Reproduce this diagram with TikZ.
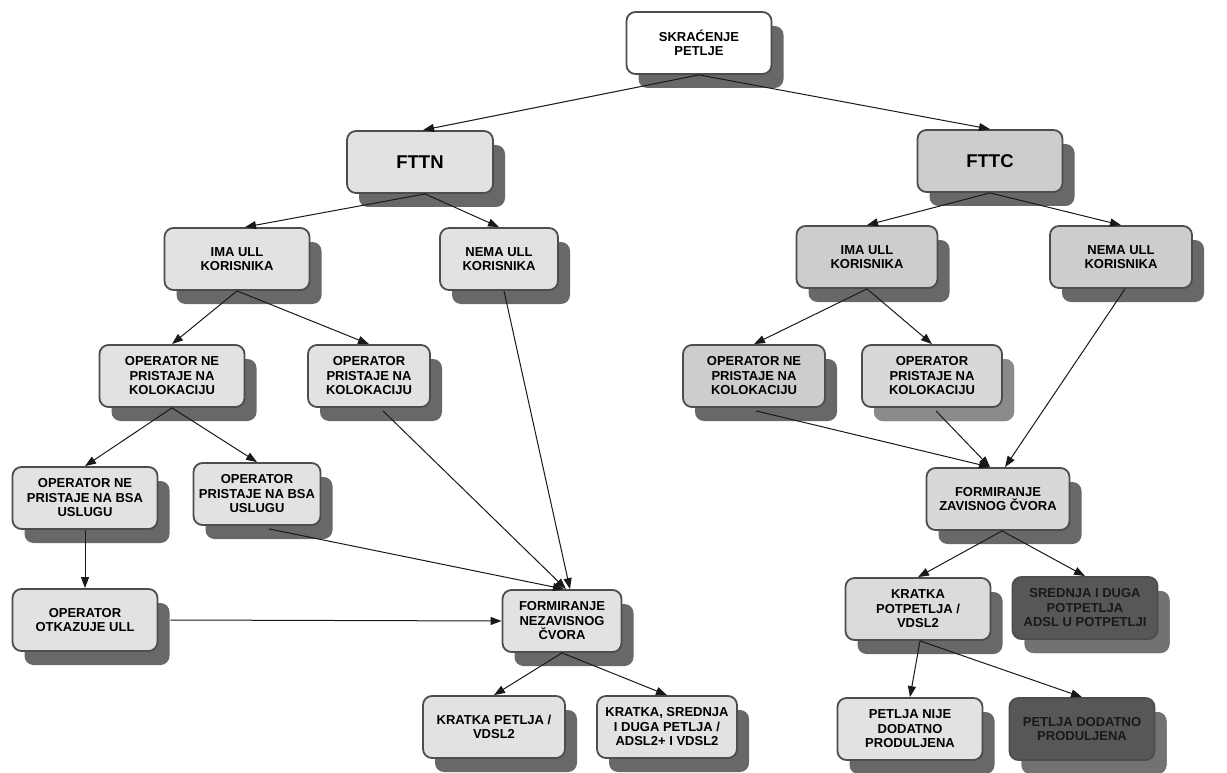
\documentclass[tikz,border=0pt]{standalone}
\usepackage{fontspec}
\setmainfont{Liberation Sans}
\usetikzlibrary{arrows.meta,shadows,calc}
\definecolor{bordercol}{HTML}{4D4D4D}
\definecolor{lightfill}{HTML}{E2E2E2}
\definecolor{midfill}{HTML}{CDCDCD}
\definecolor{palefill}{HTML}{D8D8D8}
\definecolor{darkfill}{HTML}{575757}
\definecolor{shadowcol}{HTML}{686868}
\definecolor{lightshadow}{HTML}{8A8A8A}
\definecolor{darkshadow}{HTML}{727272}
\tikzset{
  box/.style={draw=bordercol, line width=1.8pt, rounded corners=9pt, fill=lightfill,
    align=center, text=black, inner sep=2pt, minimum height=62pt,
    font=\bfseries\fontsize{13}{14.5}\selectfont,
    general shadow={fill=shadowcol, shadow xshift=12pt, shadow yshift=-14pt}},
  bigbox/.style={box, font=\bfseries\fontsize{18.5}{20}\selectfont},
  midbox/.style={box, fill=midfill},
  palebox/.style={box, fill=palefill, general shadow={fill=lightshadow, shadow xshift=12pt, shadow yshift=-14pt}},
  darkbox/.style={box, fill=darkfill, text=black!90, general shadow={fill=darkshadow, shadow xshift=12pt, shadow yshift=-14pt}},
  arr/.style={draw=black!90, line width=1pt, -{Triangle[length=11pt,width=8pt]}},
}
\begin{document}
\begin{tikzpicture}[x=1pt,y=-1pt]
\useasboundingbox (0,0) rectangle (1227,773);
% top
\node[box, fill=white, minimum width=145pt] (skr) at (699,43) {SKRAĆENJE\\PETLJE};
\node[bigbox, minimum width=146pt] (fttn) at (420,162) {FTTN};
\node[bigbox, fill=midfill, minimum width=145pt] (fttc) at (990,161) {FTTC};
% left branch
\node[box, minimum width=145pt] (imaL) at (237,259) {IMA ULL\\KORISNIKA};
\node[box, minimum width=118pt] (nemaL) at (499,259) {NEMA ULL\\KORISNIKA};
\node[box, minimum width=145pt] (opneL) at (172,376) {OPERATOR NE\\PRISTAJE NA\\KOLOKACIJU};
\node[box, minimum width=122pt] (opprL) at (369,376) {OPERATOR\\PRISTAJE NA\\KOLOKACIJU};
\node[box, minimum width=145pt] (opnebsa) at (85,498) {OPERATOR NE\\PRISTAJE NA BSA\\USLUGU};
\node[box, minimum width=127pt] (opprbsa) at (257,494) {OPERATOR\\PRISTAJE NA BSA\\USLUGU};
\node[box, minimum width=145pt] (otk) at (85,620) {OPERATOR\\OTKAZUJE ULL};
\node[box, minimum width=119pt] (fnez) at (562,621) {FORMIRANJE\\NEZAVISNOG\\ČVORA};
\node[box, minimum width=142pt] (kp) at (494,727) {KRATKA PETLJA /\\VDSL2};
\node[box, minimum width=140pt] (ksd) at (667,727) {KRATKA, SREDNJA\\I DUGA PETLJA /\\ADSL2+ I VDSL2};
% right branch
\node[midbox, minimum width=141pt] (imaR) at (867,257) {IMA ULL\\KORISNIKA};
\node[midbox, minimum width=142pt] (nemaR) at (1121,257) {NEMA ULL\\KORISNIKA};
\node[midbox, minimum width=142pt] (opneR) at (754,376) {OPERATOR NE\\PRISTAJE NA\\KOLOKACIJU};
\node[palebox, minimum width=140pt] (opprR) at (932,376) {OPERATOR\\PRISTAJE NA\\KOLOKACIJU};
\node[box, fill=palefill, minimum width=143pt] (fzav) at (998,499) {FORMIRANJE\\ZAVISNOG ČVORA};
\node[box, fill=palefill!70!lightfill, minimum width=145pt] (kpot) at (918,609) {KRATKA\\POTPETLJA /\\VDSL2};
\node[darkbox, minimum width=145pt] (sred) at (1085,608) {SREDNJA I DUGA\\POTPETLJA\\ADSL U POTPETLJI};
\node[box, minimum width=145pt] (pnije) at (910,729) {PETLJA NIJE\\DODATNO\\PRODULJENA};
\node[darkbox, minimum width=145pt] (pdod) at (1082,729) {PETLJA DODATNO\\PRODULJENA};
% connectors
\draw[arr] (skr.south) -- ([xshift=3pt]fttn.north);
\draw[arr] (skr.south) -- (fttc.north);
\draw[arr] ([xshift=5pt]fttn.south) -- ([xshift=8pt]imaL.north);
\draw[arr] ([xshift=5pt]fttn.south) -- (nemaL.north);
\draw[arr] (fttc.south) -- (imaR.north);
\draw[arr] (fttc.south) -- (nemaR.north);
\draw[arr] (imaL.south) -- (opneL.north);
\draw[arr] (imaL.south) -- (opprL.north);
\draw[arr] (imaR.south) -- (opneR.north);
\draw[arr] (imaR.south) -- (opprR.north);
\draw[arr] (opneL.south) -- (opnebsa.north);
\draw[arr] (opneL.south) -- (opprbsa.north);
\draw[arr] (opnebsa.south) -- (otk.north);
\draw[arr] ([xshift=12pt]otk.east) -- (fnez.west);
\draw[arr] ([xshift=5pt]nemaL.south) -- ([xshift=8pt]fnez.north);
\draw[arr] ([xshift=14pt,yshift=-3pt]opprL.south) -- ([xshift=4pt]fnez.north);
\draw[arr] ([xshift=12pt,yshift=-3pt]opprbsa.south) -- ([xshift=2pt]fnez.north);
\draw[arr] (fnez.south) -- (kp.north);
\draw[arr] (fnez.south) -- (ksd.north);
\draw[arr] ([xshift=2pt,yshift=-3pt]opneR.south) -- ([xshift=-8pt]fzav.north);
\draw[arr] ([xshift=4pt,yshift=-3pt]opprR.south) -- ([xshift=-8pt]fzav.north);
\draw[arr] ([xshift=4pt]nemaR.south) -- ([xshift=7pt]fzav.north);
\draw[arr] ([xshift=4pt]fzav.south) -- (kpot.north);
\draw[arr] ([xshift=4pt]fzav.south) -- (sred.north);
\draw[arr] ([xshift=2pt]kpot.south) -- (pnije.north);
\draw[arr] ([xshift=2pt]kpot.south) -- (pdod.north);
\end{tikzpicture}
\end{document}
